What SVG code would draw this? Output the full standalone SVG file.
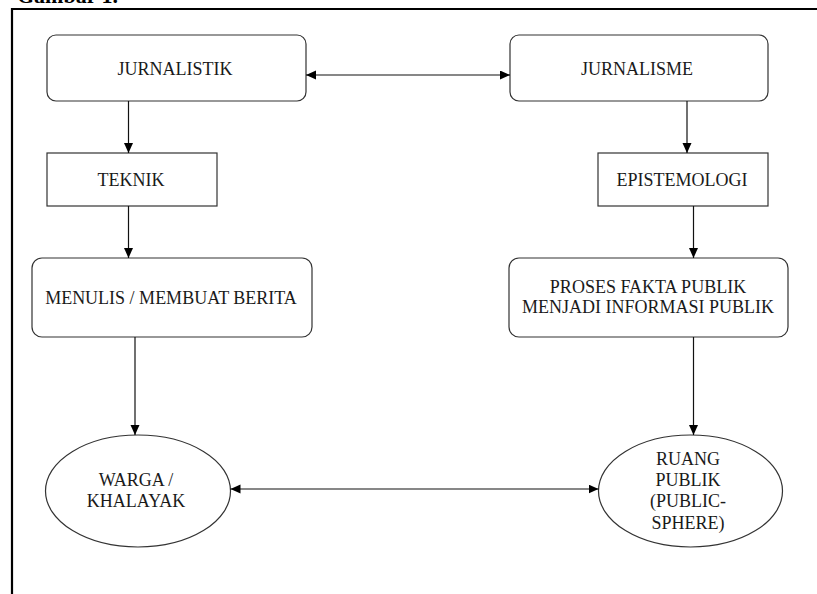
<svg xmlns="http://www.w3.org/2000/svg" width="817" height="594" viewBox="0 0 817 594">
  <style>
    .box { fill: #ffffff; stroke: #333333; stroke-width: 1.2; }
    .lbl { font-family: "Liberation Serif", "Times New Roman", serif; font-size: 18px; fill: #1a1a1a; text-anchor: middle; }
    .title { font-family: "Liberation Serif", "Times New Roman", serif; font-size: 22px; font-weight: bold; fill: #000; }
    .conn { stroke: #111111; stroke-width: 1.2; fill: none; }
    .frame { stroke: #000; stroke-width: 2.2; fill: none; }
  </style>
  <defs>
    <marker id="ah" markerUnits="userSpaceOnUse" markerWidth="11" markerHeight="10" refX="10" refY="4.5" orient="auto-start-reverse">
      <path d="M0,0 L10,4.5 L0,9 Z" fill="#000"/>
    </marker>
  </defs>
  <rect width="817" height="594" fill="#ffffff"/>
  <text class="title" x="17" y="2.5">Gambar 1.</text>
  <path class="frame" d="M12,594 L12,9 L817,9"/>

  <g id="jurnalistik">
    <rect class="box" x="47" y="35" width="259" height="66" rx="9"/>
    <text class="lbl" x="175" y="75">JURNALISTIK</text>
  </g>
  <g id="jurnalisme">
    <rect class="box" x="510" y="35" width="258" height="66" rx="9"/>
    <text class="lbl" x="637" y="75">JURNALISME</text>
  </g>
  <g id="teknik">
    <rect class="box" x="47" y="153" width="170" height="53"/>
    <text class="lbl" x="131" y="186">TEKNIK</text>
  </g>
  <g id="epistemologi">
    <rect class="box" x="598" y="153" width="170" height="53"/>
    <text class="lbl" x="682" y="186">EPISTEMOLOGI</text>
  </g>
  <g id="menulis">
    <rect class="box" x="32" y="258" width="280" height="79" rx="10"/>
    <text class="lbl" x="171" y="304">MENULIS / MEMBUAT BERITA</text>
  </g>
  <g id="proses">
    <rect class="box" x="509" y="258" width="279" height="79" rx="10"/>
    <text class="lbl" x="648" y="293">PROSES FAKTA PUBLIK</text>
    <text class="lbl" x="648" y="313">MENJADI INFORMASI PUBLIK</text>
  </g>
  <g id="warga">
    <ellipse class="box" cx="138" cy="491" rx="92.5" ry="56"/>
    <text class="lbl" x="136" y="486">WARGA /</text>
    <text class="lbl" x="136" y="507">KHALAYAK</text>
  </g>
  <g id="ruang">
    <ellipse class="box" cx="690.5" cy="491" rx="92" ry="56"/>
    <text class="lbl" x="688" y="465">RUANG</text>
    <text class="lbl" x="688" y="486">PUBLIK</text>
    <text class="lbl" x="688" y="507">(PUBLIC-</text>
    <text class="lbl" x="688" y="529">SPHERE)</text>
  </g>

  <g id="connectors">
    <line class="conn" x1="306" y1="75" x2="510" y2="75" marker-start="url(#ah)" marker-end="url(#ah)"/>
    <line class="conn" x1="128.5" y1="101" x2="128.5" y2="153" marker-end="url(#ah)"/>
    <line class="conn" x1="128.5" y1="206" x2="128.5" y2="258" marker-end="url(#ah)"/>
    <line class="conn" x1="135" y1="337" x2="135" y2="435" marker-end="url(#ah)"/>
    <line class="conn" x1="687" y1="101" x2="687" y2="153" marker-end="url(#ah)"/>
    <line class="conn" x1="693.5" y1="206" x2="693.5" y2="258" marker-end="url(#ah)"/>
    <line class="conn" x1="693.5" y1="337" x2="693.5" y2="435" marker-end="url(#ah)"/>
    <line class="conn" x1="230.5" y1="489" x2="598.5" y2="489" marker-start="url(#ah)" marker-end="url(#ah)"/>
  </g>
</svg>
